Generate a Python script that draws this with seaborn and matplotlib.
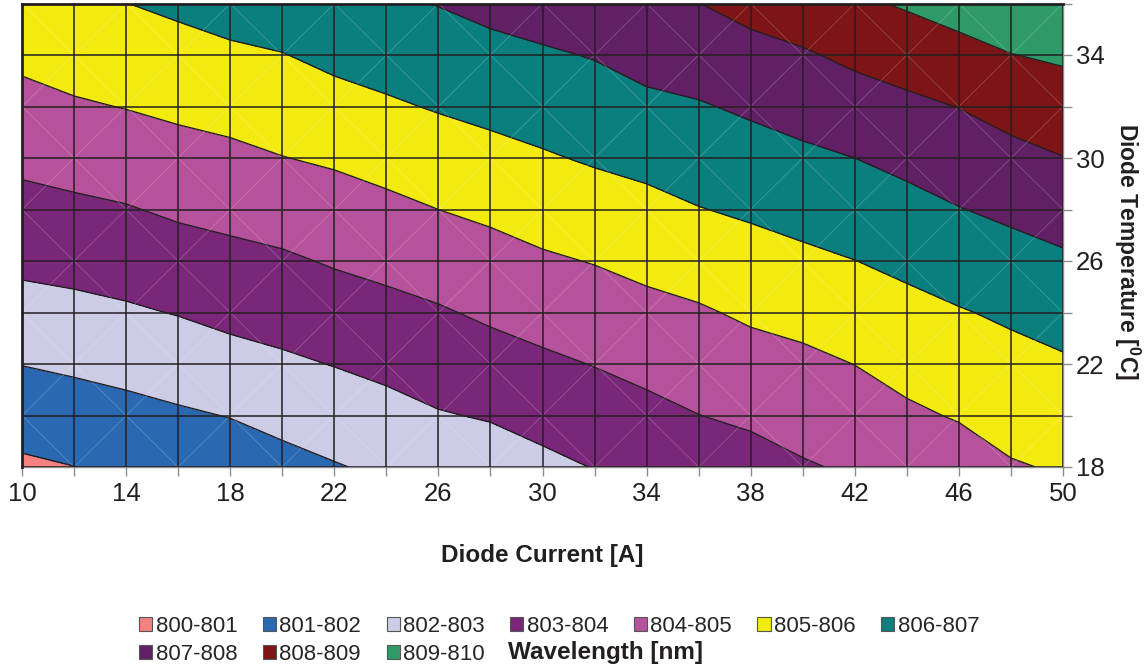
import numpy as np
import matplotlib
matplotlib.use("Agg")
import matplotlib.pyplot as plt
import seaborn as sns
from matplotlib.patches import Patch
from matplotlib.collections import LineCollection

# Measurement grid: diode current [A] (columns) and diode temperature [°C] (rows)
current = np.arange(10, 51, 2)
temperature = np.arange(18, 37, 2)

# Emission wavelength [nm] at each (temperature, current) node
wavelength = [
    [800.84, 800.99, 801.17, 801.33, 801.47, 801.70, 801.94, 802.16, 802.37, 802.53, 802.78,
     803.03, 803.23, 803.46, 803.64, 803.92, 804.11, 804.33, 804.55, 804.93, 805.08],  # 18
    [801.43, 801.57, 801.72, 801.88, 802.03, 802.28, 802.49, 802.70, 802.94, 803.07, 803.31,
     803.53, 803.75, 803.99, 804.16, 804.36, 804.56, 804.85, 805.07, 805.33, 805.48],  # 20
    [802.02, 802.15, 802.29, 802.46, 802.67, 802.85, 803.03, 803.22, 803.43, 803.62, 803.83,
     804.03, 804.25, 804.45, 804.65, 804.80, 805.01, 805.30, 805.50, 805.72, 805.89],  # 22
    [802.64, 802.75, 802.88, 803.04, 803.24, 803.37, 803.56, 803.73, 803.91, 804.15, 804.36,
     804.53, 804.75, 804.90, 805.14, 805.29, 805.50, 805.74, 805.94, 806.14, 806.36],  # 24
    [803.21, 803.30, 803.42, 803.59, 803.75, 803.87, 804.08, 804.25, 804.45, 804.66, 804.88,
     805.04, 805.24, 805.43, 805.64, 805.81, 805.99, 806.20, 806.45, 806.66, 806.86],  # 26
    [803.71, 803.82, 803.94, 804.14, 804.26, 804.42, 804.60, 804.78, 805.00, 805.18, 805.40,
     805.57, 805.74, 805.97, 806.13, 806.32, 806.49, 806.71, 806.97, 807.18, 807.41],  # 28
    [804.21, 804.36, 804.49, 804.67, 804.79, 804.98, 805.12, 805.33, 805.54, 805.72, 805.91,
     806.10, 806.26, 806.45, 806.63, 806.82, 807.00, 807.24, 807.49, 807.74, 807.98],  # 30
    [804.71, 804.90, 805.03, 805.18, 805.32, 805.47, 805.68, 805.88, 806.07, 806.24, 806.40,
     806.57, 806.80, 806.93, 807.14, 807.36, 807.59, 807.80, 808.02, 808.33, 808.55],  # 32
    [805.20, 805.39, 805.51, 805.67, 805.84, 805.97, 806.22, 806.38, 806.55, 806.74, 806.89,
     807.05, 807.32, 807.46, 807.72, 807.90, 808.19, 808.43, 808.70, 808.98, 809.13],  # 34
    [805.69, 805.86, 805.99, 806.18, 806.39, 806.53, 806.74, 806.88, 807.03, 807.25, 807.43,
     807.63, 807.82, 807.99, 808.28, 808.56, 808.84, 809.10, 809.37, 809.62, 809.72],  # 36
]

levels = np.arange(800, 811)
bands = ["800-801", "801-802", "802-803", "803-804", "804-805",
         "805-806", "806-807", "807-808", "808-809", "809-810"]
band_colors = ["#f48080", "#2a68b1", "#cdcce6", "#7a277a", "#b6519c",
               "#f3eb10", "#0a7f7e", "#612066", "#7d1416", "#2f9a68"]

x_label_ticks = [10, 14, 18, 22, 26, 30, 34, 38, 42, 46, 50]
y_label_ticks = [18, 22, 26, 30, 34]

sns.set_theme(style="white")
plt.rcParams["font.family"] = ["Liberation Sans", "DejaVu Sans"]
plt.rcParams["mathtext.fontset"] = "custom"
plt.rcParams["mathtext.rm"] = "Liberation Sans"
plt.rcParams["mathtext.bf"] = "Liberation Sans:bold"

W, H = 1146, 669
fig = plt.figure(figsize=(W / 100, H / 100), dpi=100)
ax = fig.add_axes([22 / W, 1 - 467 / H, (1063 - 22) / W, (467 - 3.5) / H])

palette = sns.color_palette(band_colors)
X, Y = np.meshgrid(current, temperature)
Z = np.array(wavelength)

ink = "#231f20"
ax.contourf(X, Y, Z, levels=levels, colors=palette)
ax.contour(X, Y, Z, levels=levels[1:-1], colors=ink, linewidths=1.0)

# faint mesh diagonals of the surface triangulation
segs = []
for j in range(len(temperature) - 1):
    for i in range(len(current) - 1):
        x0, x1 = current[i], current[i + 1]
        y0, y1 = temperature[j], temperature[j + 1]
        if (i + j) % 2:
            segs.append([(x0, y0), (x1, y1)])
        else:
            segs.append([(x0, y1), (x1, y0)])
ax.add_collection(LineCollection(segs, colors="white", alpha=0.22, linewidths=0.6, zorder=3))

# cell grid
ax.vlines(current, temperature[0], temperature[-1], colors=ink, linewidth=1.1, zorder=4)
ax.hlines(temperature, current[0], current[-1], colors=ink, linewidth=1.1, zorder=4)

ax.set_xlim(current[0], current[-1])
ax.set_ylim(temperature[0], temperature[-1])

for side in ("left", "top"):
    ax.spines[side].set_color(ink)
    ax.spines[side].set_linewidth(2.0)
for side in ("right", "bottom"):
    ax.spines[side].set_color("#8c8c8c")
    ax.spines[side].set_linewidth(1.0)
ax.spines["left"].set_zorder(5)
ax.spines["top"].set_zorder(5)

ax.yaxis.tick_right()
ax.yaxis.set_label_position("right")
ax.set_xticks(current)
ax.set_xticklabels([str(c) if c in x_label_ticks else "" for c in current])
ax.set_yticks(temperature)
ax.set_yticklabels([str(t) if t in y_label_ticks else "" for t in temperature])
ax.tick_params(axis="both", direction="out", length=6.5, width=1.0, color="#8c8c8c",
               labelsize=18.5, labelcolor="#231f20", pad=3)
ax.tick_params(axis="y", left=False, right=True)
ax.tick_params(axis="x", top=False, bottom=True, pad=4)

ax.set_xlabel("Diode Current [A]", fontsize=17.5, fontweight="bold", color=ink, labelpad=28)
ax.set_ylabel(r"Diode Temperature [$^{\mathbf{0}}$C]", fontsize=16.5, fontweight="bold",
              color=ink, rotation=270, va="center", ha="center")
ax.yaxis.set_label_coords((1127 - 22) / (1063 - 22), 1 - (252 - 3.5) / (467 - 3.5))

handles = [Patch(facecolor=c, edgecolor="#555555", linewidth=0.8, label=b)
           for b, c in zip(bands, palette)]
# two rows of seven, filled row by row
order = [0, 7, 1, 8, 2, 9, 3, 4, 5, 6]
fig.legend(handles=[handles[k] for k in order], loc="upper left",
           bbox_to_anchor=(139 / W, 1 - 616 / H), ncol=7, frameon=False,
           fontsize=16, handlelength=0.6, handleheight=0.6, handletextpad=0.15,
           columnspacing=1.14, labelspacing=0.3, borderpad=0, borderaxespad=0)
fig.text(508 / W, 1 - 653 / H, "Wavelength [nm]", fontsize=17.5, fontweight="bold",
         color=ink, va="center", ha="left")

fig.savefig("out.png", dpi=100)
